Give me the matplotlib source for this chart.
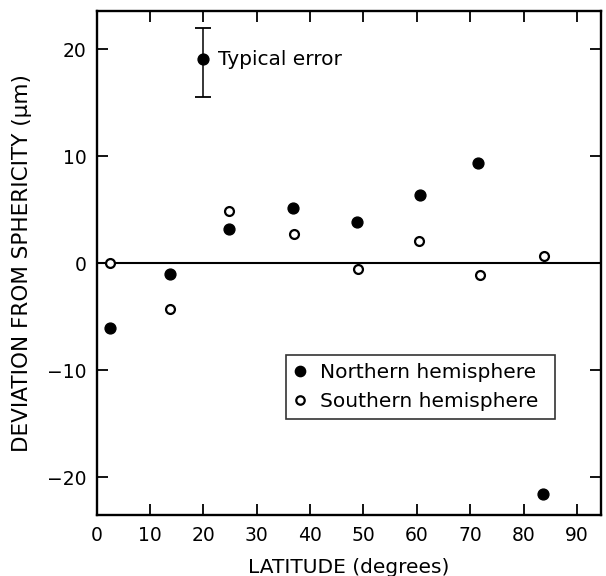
import matplotlib
matplotlib.use("Agg")
import matplotlib.pyplot as plt

plt.rcParams['font.family'] = ['DejaVu Sans']

# Latitude (degrees) and deviation from sphericity (micrometres)
north_lat = [2.5, 13.75, 24.8, 36.8, 48.7, 60.6, 71.5, 83.7]
north_dev = [-6.0, -0.97, 3.18, 5.17, 3.9, 6.42, 9.4, -21.5]
south_lat = [2.6, 13.75, 24.8, 37.0, 49.0, 60.4, 71.9, 83.8]
south_dev = [0.0, -4.24, 4.89, 2.71, -0.56, 2.08, -1.09, 0.68]

# Representative error bar
err_lat = 20.0
err_dev = 19.1
err_low = 3.5
err_high = 2.9

xticks = [0, 10, 20, 30, 40, 50, 60, 70, 80, 90]
yticks = [-20, -10, 0, 10, 20]

fig = plt.figure(figsize=(6.06, 5.76), dpi=100)
ax = fig.add_axes([0.1594, 0.106, 0.8323, 0.875])

ax.axhline(0, color='black', lw=1.5, zorder=1)

ax.plot(north_lat, north_dev, 'o', color='black', ms=7.8, mec='black',
        label='Northern hemisphere', zorder=3)
ax.plot(south_lat, south_dev, 'o', mfc='white', mec='black', ms=6.4, mew=1.6,
        label='Southern hemisphere', zorder=3)

ax.errorbar([err_lat], [err_dev], yerr=[[err_low], [err_high]], fmt='o',
            color='black', ms=7.8, elinewidth=1.1, capsize=5.5, capthick=1.3,
            zorder=3)
ax.text(22.7, err_dev, 'Typical error', fontsize=14.5, va='center', ha='left')

ax.set_xlim(0, 94.5)
ax.set_ylim(-23.5, 23.6)
ax.set_xticks(xticks)
ax.set_yticks(yticks)
ax.set_yticklabels(['\u221220', '\u221210', '0', '10', '20'])

ax.tick_params(direction='in', length=8, width=1.3, top=True, right=True,
               labelsize=13.5)
ax.tick_params(axis='x', pad=8)
ax.tick_params(axis='y', pad=7)
for s in ax.spines.values():
    s.set_linewidth(1.7)

ax.set_xlabel('LATITUDE (degrees)', fontsize=14.5, labelpad=9)
ax.set_ylabel('DEVIATION FROM SPHERICITY (\u00b5m)', fontsize=15.5, labelpad=11)

leg = ax.legend(loc='lower left', bbox_to_anchor=(0.376, 0.19, 0.533, 0.14),
                mode='expand', fontsize=14.5, frameon=True, fancybox=False,
                edgecolor='black', handlelength=0.6, handletextpad=0.7,
                borderpad=0.4, labelspacing=0.5, markerscale=0.95,
                borderaxespad=0)
leg.get_frame().set_linewidth(1.2)

fig.savefig('out.png', dpi=100)
